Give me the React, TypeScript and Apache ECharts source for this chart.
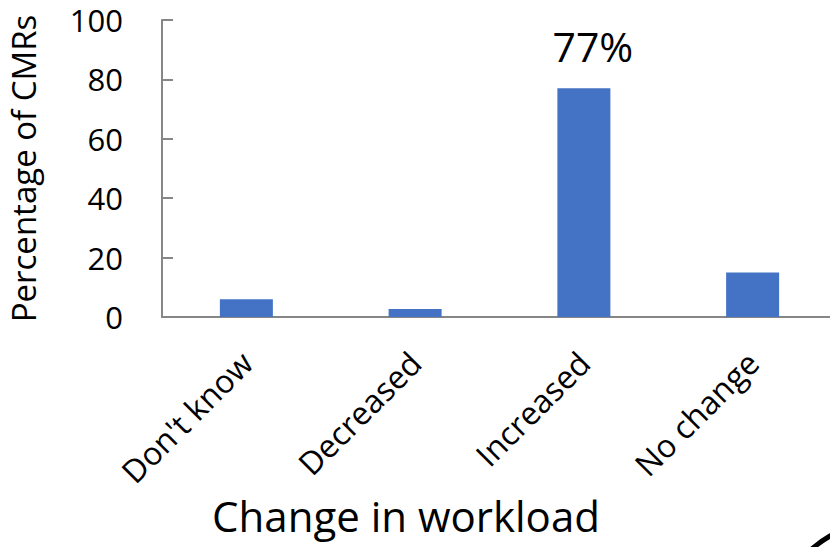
import React, { useEffect, useRef } from "react";
import * as echarts from "echarts";

const categories = ["Don't know", "Decreased", "Increased", "No change"];
const percentages = [6, 2.7, 77, 15];
const barLabels = ["", "", "77%", ""];
const yTicks = { min: 0, max: 100, interval: 20 };
const xTitle = "Change in workload";
const yTitle = "Percentage of CMRs";

const FONT = "'Open Sans', Lato, sans-serif";

export default function App() {
  const ref = useRef<HTMLDivElement>(null);
  useEffect(() => {
    document.body.style.margin = "0";
    const chart = echarts.init(ref.current!, null, { renderer: "svg" });
    chart.setOption({
      animation: false,
      backgroundColor: "#ffffff",
      textStyle: { fontFamily: FONT },
      grid: {
        left: 162,
        right: -7,
        top: 20,
        bottom: 230,
        containLabel: false,
        outerBoundsMode: "none",
      },
      xAxis: {
        type: "category",
        data: categories,
        axisLine: { lineStyle: { color: "#868686", width: 2 } },
        axisTick: { show: false },
        axisLabel: { rotate: 45, fontSize: 32, color: "#000", margin: 40, fontFamily: FONT },
      },
      yAxis: {
        type: "value",
        min: yTicks.min,
        max: yTicks.max,
        interval: yTicks.interval,
        name: yTitle,
        nameLocation: "middle",
        nameGap: 122,
        nameTextStyle: { fontSize: 33, color: "#000", fontFamily: FONT },
        axisLine: { show: true, lineStyle: { color: "#868686", width: 2 } },
        axisTick: { show: true, inside: true, length: 11, lineStyle: { color: "#868686", width: 2 } },
        splitLine: { show: false },
        axisLabel: { fontSize: 31, color: "#000", margin: 39, fontFamily: FONT },
      },
      series: [
        {
          type: "bar",
          barWidth: 53,
          itemStyle: { color: "#4472C4" },
          data: percentages.map((v, i) => ({
            value: v,
            label: {
              show: barLabels[i] !== "",
              position: "top",
              distance: 22,
              offset: [9, 0],
              formatter: barLabels[i],
              fontSize: 41,
              color: "#000",
              fontFamily: FONT,
            },
          })),
        },
      ],
      graphic: [
        {
          type: "text",
          x: 406,
          y: 515,
          style: {
            text: xTitle,
            textAlign: "center",
            textVerticalAlign: "middle",
            fontSize: 42,
            fontFamily: FONT,
            fill: "#000",
          },
        },
        {
          type: "arc",
          shape: { cx: 890, cy: 640, r: 120, startAngle: Math.PI * 1.08, endAngle: Math.PI * 1.42 },
          style: { stroke: "#000", lineWidth: 5, fill: "none" },
        },
      ],
    });
    return () => chart.dispose();
  }, []);
  return <div ref={ref} style={{ width: 830, height: 547 }} />;
}
